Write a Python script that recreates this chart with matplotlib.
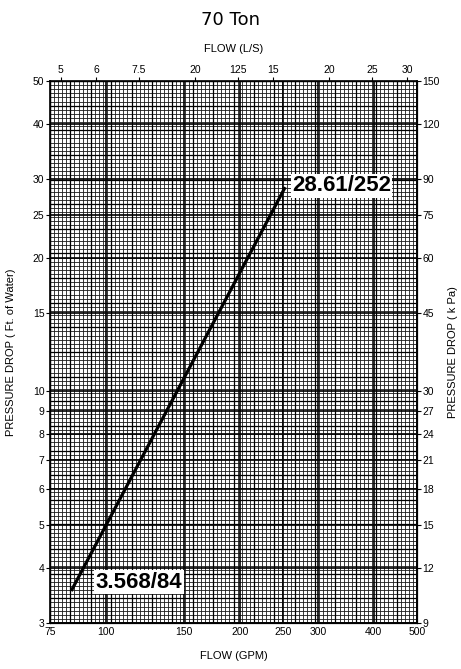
import matplotlib
matplotlib.use('Agg')
import matplotlib.pyplot as plt
import numpy as np

plt.rcParams['font.family'] = ['Liberation Sans', 'DejaVu Sans']

# curve endpoints (GPM, ft of water)
flow_gpm = [84, 252]
drop_ft = [3.568, 28.61]
labels = ['3.568/84', '28.61/252']

x_ticks = [75, 100, 150, 200, 250, 300, 400, 500]
y_ticks = [3, 4, 5, 6, 7, 8, 9, 10, 15, 20, 25, 30, 40, 50]
kpa_labels = ['9', '12', '15', '18', '21', '24', '27', '30', '45', '60', '75', '90', '120', '150']
top_lps = [5, 6, 7.5, 10, 12.5, 15, 20, 25, 30]
top_labels = ['5', '6', '7.5', '20', '125', '15', '20', '25', '30']
LPS_TO_GPM = 15.85

fig = plt.figure(figsize=(4.61, 6.69), dpi=100)
ax = fig.add_axes([50 / 461, 1 - 623 / 669, 367 / 461, 542 / 669])
ax.set_xscale('log')
ax.set_yscale('log')
ax.set_xlim(75, 500)
ax.set_ylim(3, 50)

# graph paper grid
xf = 75 * (500 / 75) ** (np.arange(0, 91) / 90)
yf = 3 * (50 / 3) ** (np.arange(0, 133) / 132)
ax.vlines(xf, 3, 50, color='#1a1a1a', lw=0.6, zorder=1)
ax.hlines(yf, 75, 500, color='#1a1a1a', lw=0.6, zorder=1)
ax.vlines(xf[::5], 3, 50, color='black', lw=0.9, zorder=1)
ax.hlines(yf[::6], 75, 500, color='black', lw=0.9, zorder=1)
ax.vlines(x_ticks, 3, 50, color='black', lw=1.2, zorder=1)
ax.hlines(y_ticks, 75, 500, color='black', lw=1.2, zorder=1)

ax.plot(flow_gpm, drop_ft, color='black', lw=2.3, zorder=3)

ax.text(95, 3.71, labels[0], fontsize=16, fontweight='bold', va='center', ha='left',
        bbox=dict(facecolor='white', edgecolor='none', pad=1), zorder=4)
ax.text(262, 29.0, labels[1], fontsize=16, fontweight='bold', va='center', ha='left',
        bbox=dict(facecolor='white', edgecolor='none', pad=1), zorder=4)

for s in ax.spines.values():
    s.set_linewidth(1.2)

ax.xaxis.set_minor_locator(matplotlib.ticker.NullLocator())
ax.yaxis.set_minor_locator(matplotlib.ticker.NullLocator())
ax.set_xticks(x_ticks, [str(v) for v in x_ticks])
ax.set_yticks(y_ticks, [str(v) for v in y_ticks])
ax.tick_params(axis='x', length=0, labelsize=7.5, pad=3)
ax.tick_params(axis='y', length=3, labelsize=7.5, pad=1)
ax.set_xlabel('FLOW (GPM)', fontsize=8, labelpad=10)
ax.set_ylabel('PRESSURE DROP ( Ft. of Water)', fontsize=8, labelpad=12)

axr = ax.twinx()
axr.set_yscale('log')
axr.set_ylim(3, 50)
axr.yaxis.set_minor_locator(matplotlib.ticker.NullLocator())
axr.set_yticks(y_ticks, kpa_labels)
axr.tick_params(axis='y', length=3, labelsize=7.5, pad=1)
axr.set_ylabel('PRESSURE DROP ( k Pa)', fontsize=8, labelpad=6)

axt = ax.twiny()
axt.set_xscale('log')
axt.set_xlim(75, 500)
axt.xaxis.set_minor_locator(matplotlib.ticker.NullLocator())
axt.set_xticks([v * LPS_TO_GPM for v in top_lps], top_labels)
axt.tick_params(axis='x', length=3, labelsize=7.5, pad=1)
axt.set_xlabel('FLOW (L/S)', fontsize=8, labelpad=10)

fig.text(0.5, 1 - 20 / 669, '70 Ton', fontsize=13, ha='center', va='center',
         family='DejaVu Sans')

fig.savefig('out.png', dpi=100)
